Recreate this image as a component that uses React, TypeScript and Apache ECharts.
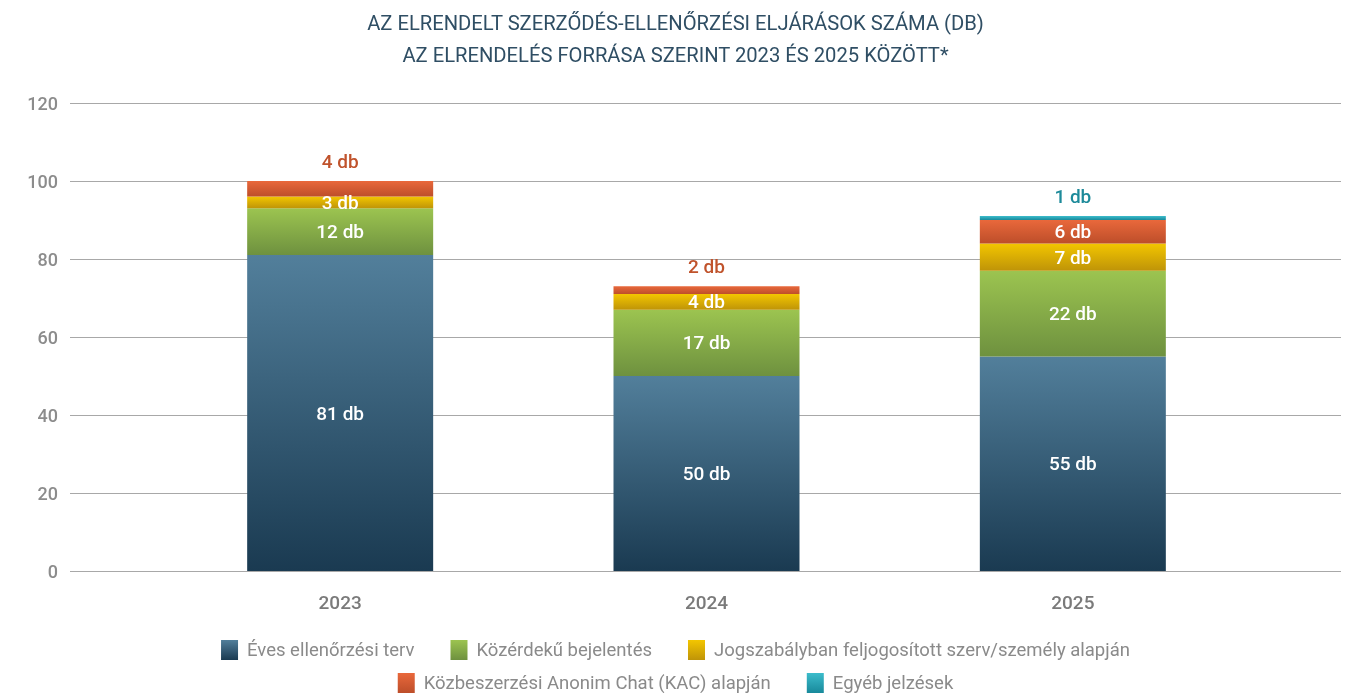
import React, { useEffect, useRef } from "react";
import * as echarts from "echarts";

const years = ["2023", "2024", "2025"];
const seriesNames = [
  "Éves ellenőrzési terv",
  "Közérdekű bejelentés",
  "Jogszabályban feljogosított szerv/személy alapján",
  "Közbeszerzési Anonim Chat (KAC) alapján",
  "Egyéb jelzések",
];
const eves = [81, 50, 55];
const kozerdeku = [12, 17, 22];
const jogszabaly = [3, 4, 7];
const kac = [4, 2, 6];
const egyeb = [null, null, 1];
const yTicks = [0, 20, 40, 60, 80, 100, 120];

const grad = (top: string, bottom: string) =>
  new echarts.graphic.LinearGradient(0, 0, 0, 1, [
    { offset: 0, color: top },
    { offset: 1, color: bottom },
  ]);

const colors = [
  ["#527f9b", "#1a3a51"],
  ["#9cc450", "#6e913f"],
  ["#f3c600", "#bf9408"],
  ["#e9683b", "#bd4e2a"],
  ["#3cbccb", "#18899b"],
];

const FONT = "Roboto, 'Noto Sans', sans-serif";

export default function App() {
  const ref = useRef<HTMLDivElement>(null);
  useEffect(() => {
    if (!ref.current) return;
    const chart = echarts.init(ref.current, null, { renderer: "svg" });
    const dataSets = [eves, kozerdeku, jogszabaly, kac, egyeb];
    const topLabel = (color: string) => ({
      position: "top",
      color,
      distance: 10,
    });
    const series = dataSets.map((arr, i) => ({
      name: seriesNames[i],
      type: "bar",
      stack: "total",
      xAxisIndex: 1,
      yAxisIndex: 1,
      barWidth: 186,
      itemStyle: { color: grad(colors[i][0], colors[i][1]) },
      label: {
        show: true,
        position: "inside",
        color: "#ffffff",
        fontSize: 19,
        fontWeight: 500,
        fontFamily: FONT,
        formatter: (p: any) => (p.value == null ? "" : `${p.value} db`),
      },
      data: arr.map((v, j) => {
        if (v == null) return null;
        if (i === 3 && j < 2) return { value: v, label: topLabel("#c0532c") };
        if (i === 4) return { value: v, label: topLabel("#1d8a9a") };
        return v;
      }),
    }));
    const legendCommon = {
      itemWidth: 17,
      itemHeight: 20,
      itemGap: 36,
      padding: 0,
      icon: "rect",
      textStyle: {
        color: "#8a8a8a",
        fontSize: 18.5,
        fontFamily: FONT,
        padding: [0, 0, 0, 4],
      },
      left: "center",
    };
    chart.setOption({
      animation: false,
      title: {
        text: "AZ ELRENDELT SZERZŐDÉS-ELLENŐRZÉSI ELJÁRÁSOK SZÁMA (DB)\nAZ ELRENDELÉS FORRÁSA SZERINT 2023 ÉS 2025 KÖZÖTT*",
        left: "center",
        top: 2,
        textStyle: {
          color: "#2f4e64",
          fontSize: 20.2,
          fontWeight: "normal",
          lineHeight: 32,
          fontFamily: FONT,
        },
      },
      legend: [
        { ...legendCommon, top: 640, data: seriesNames.slice(0, 3) },
        { ...legendCommon, top: 673, data: seriesNames.slice(3) },
      ],
      grid: [
        { left: 70, right: 10, top: 103, bottom: 122 },
        { left: 157, right: 95, top: 103, bottom: 122 },
      ],
      xAxis: [
        { type: "category", gridIndex: 0, data: years, show: false },
        {
          type: "category",
          gridIndex: 1,
          data: years,
          axisLine: { show: false },
          axisTick: { show: false },
          axisLabel: {
            color: "#7a7a7a",
            fontSize: 19,
            fontWeight: 500,
            fontFamily: FONT,
            margin: 22,
          },
        },
      ],
      yAxis: [
        {
          type: "value",
          gridIndex: 0,
          min: yTicks[0],
          max: yTicks[yTicks.length - 1],
          interval: 20,
          axisLine: { show: false },
          axisTick: { show: false },
          axisLabel: {
            color: "#8c8c8c",
            fontSize: 18,
            fontWeight: 500,
            fontFamily: FONT,
            margin: 12,
          },
          splitLine: { lineStyle: { color: "#a8a8a8", width: 1 } },
        },
        {
          type: "value",
          gridIndex: 1,
          min: yTicks[0],
          max: yTicks[yTicks.length - 1],
          interval: 20,
          show: false,
          splitLine: { show: false },
        },
      ],
      series,
    });
    return () => chart.dispose();
  }, []);
  return (
    <div
      ref={ref}
      style={{ position: "fixed", left: 0, top: 0, width: 1351, height: 693 }}
    />
  );
}
